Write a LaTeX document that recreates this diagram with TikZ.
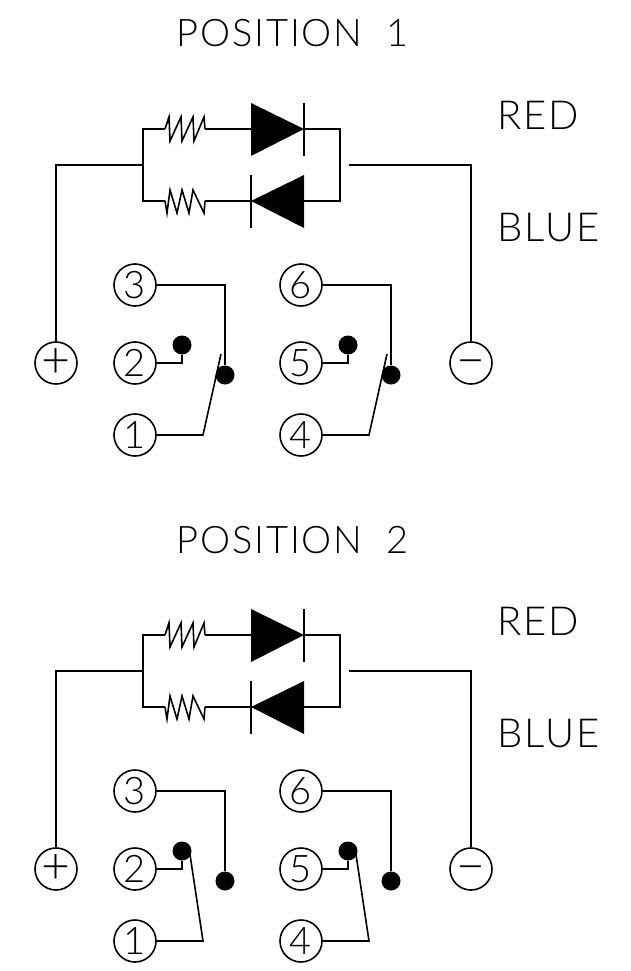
\documentclass[tikz,border=0pt]{standalone}
\usepackage{fontspec}
\newfontfamily\cadfont[LetterSpace=5]{Lato Light}
\tikzset{
  wire/.style={line width=1.6pt, line join=miter},
  pin/.style={draw, circle, line width=1.6pt, minimum size=42pt, inner sep=0pt, font=\cadfont\fontsize{38}{38}\selectfont},
  sign/.style={pin, font=\cadfont\fontsize{50}{50}\selectfont},
  contact/.style={fill=black, circle, minimum size=19pt, inner sep=0pt},
  title/.style={anchor=base west, inner sep=0pt, font=\cadfont\fontsize{38}{38}\selectfont},
  legend/.style={anchor=base west, inner sep=0pt, font=\cadfont\fontsize{40}{40}\selectfont}
}
\begin{document}
\begin{tikzpicture}[x=1pt, y=-1pt]
    \useasboundingbox (0, 0) rectangle (631, 971);
    \foreach \pos/\offset/\swing/\tip in {1/0/221/354, 2/506/189/342} {
    \begin{scope}[shift={(0, \offset)}, name prefix=p\pos-]
        % Titles
        \node [title] (heading) at (176, 47) {POSITION\hspace{24pt}\pos};
        \node [legend] (red) at (497, 129) {RED};
        \node [legend] (blue) at (497, 241) {BLUE};
        % Pins
        \node [sign] (plus) at (56, 363) {+};
        \node [sign] (minus) at (471, 363) {\vphantom{+}−};
        \node [pin] (pin3) at (135, 285) {3};
        \node [pin] (pin2) at (135, 363) {2};
        \node [pin] (pin1) at (135, 435) {1};
        \node [pin] (pin6) at (301, 285) {6};
        \node [pin] (pin5) at (301, 363) {5};
        \node [pin] (pin4) at (301, 435) {4};
        % Contacts
        \node [contact] (com1) at (225, 375) {};
        \node [contact] (com2) at (391, 375) {};
        \node [contact] (stop1) at (182, 345) {};
        \node [contact] (stop2) at (348, 345) {};
        % Branches
        \coordinate (left) at (143, 165);
        \coordinate (topL) at (143, 129);
        \coordinate (botL) at (143, 201);
        \coordinate (topR) at (340, 129);
        \coordinate (botR) at (340, 201);
        \coordinate (resA) at (165, 129);
        \coordinate (resB) at (205, 129);
        \coordinate (resC) at (165, 201);
        \coordinate (resD) at (205, 201);
        \coordinate (redA) at (251, 129);
        \coordinate (redK) at (304, 129);
        \coordinate (blueK) at (251, 201);
        \coordinate (blueA) at (304, 201);
        \coordinate (outer) at (349, 165);
        \draw [wire] (plus) |- (left);
        \draw [wire] (resA) -- (topL) -- (botL) -- (resC);
        \draw [wire] (resB) -- (redA);
        \draw [wire] (resD) -- (blueK);
        \draw [wire] (redK) -- (topR) -- (botR) -- (blueA);
        \draw [wire] (minus) |- (outer);
        % Resistors
        \draw [wire] (resA) -- (169, 117) -- (170, 141) -- (181, 117) -- (182, 141) -- (193, 117) -- (194, 141) -- (204, 117) -- (resB);
        \draw [wire] (resC) -- (167, 213) -- (170, 190) -- (177, 213) -- (182, 190) -- (189, 213) -- (193, 190) -- (204, 213) -- (resD);
        % Diodes
        \fill (251, 103) -- (redK) -- (251, 156) -- cycle;
        \draw [wire] (304, 103) -- (304, 156);
        \fill (304, 175) -- (blueK) -- (304, 228) -- cycle;
        \draw [wire] (251, 175) -- (251, 228);
        % Switches
        \coordinate (knee1) at (203, 435);
        \coordinate (knee2) at (369, 435);
        \coordinate (blade1) at (\swing, \tip);
        \coordinate (blade2) at ({\swing+166}, \tip);
        \draw [wire] (pin3) -| (com1);
        \draw [wire] (pin6) -| (com2);
        \draw [wire] (pin2) -| (stop1);
        \draw [wire] (pin5) -| (stop2);
        \draw [wire] (pin1) -- (knee1) -- (blade1);
        \draw [wire] (pin4) -- (knee2) -- (blade2);
    \end{scope}
    }
\end{tikzpicture}
\end{document}
